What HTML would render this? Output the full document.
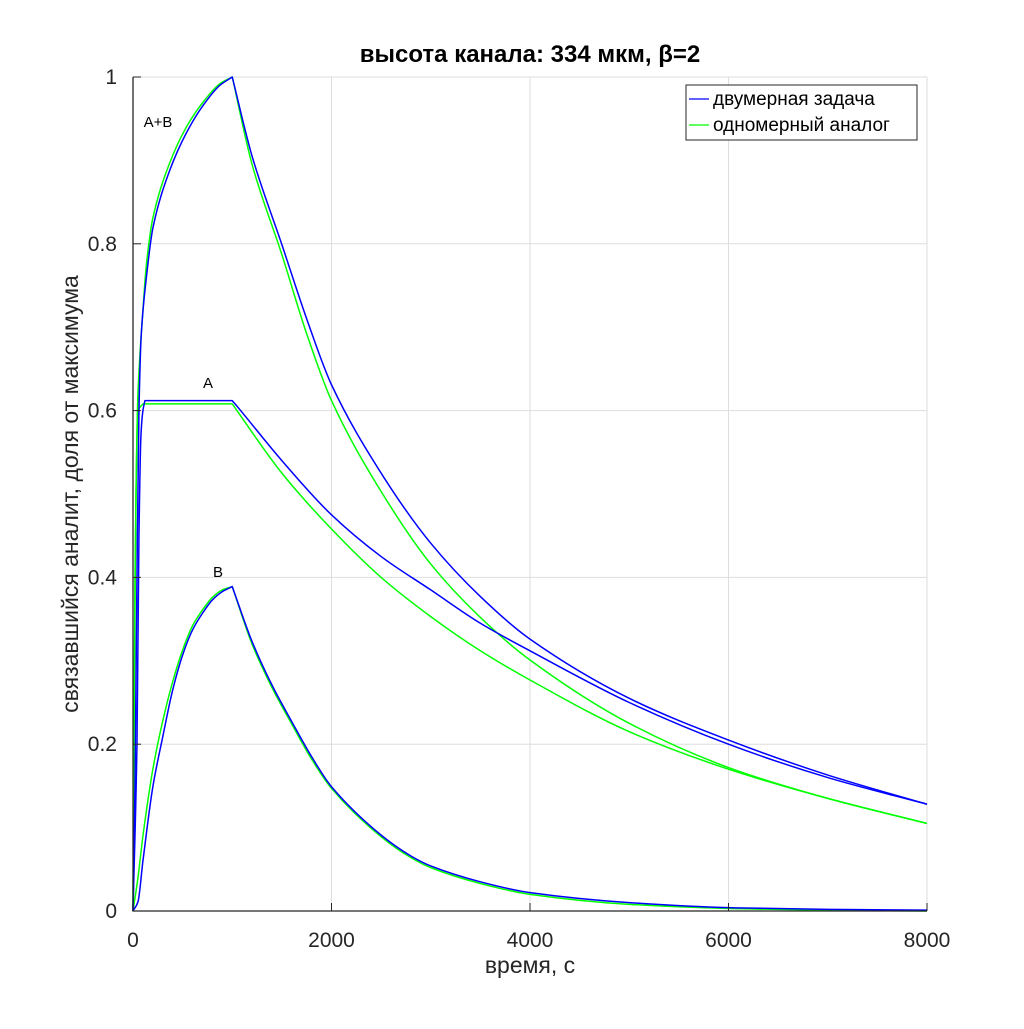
<!DOCTYPE html>
<html><head><meta charset="utf-8"><style>
body{margin:0;background:#fff;font-family:"Liberation Sans",sans-serif}
svg text{font-family:"Liberation Sans",sans-serif}
</style></head><body>
<svg id="chart" width="1024" height="1024" viewBox="0 0 1024 1024" xmlns="http://www.w3.org/2000/svg">
<rect width="1024" height="1024" fill="#fff"/>
<g id="grid"></g>
<g id="series"></g>
<g id="axes"></g>
<text x="530" y="62" text-anchor="middle" font-size="24" font-weight="bold" fill="#000">высота канала: 334 мкм, β=2</text>
<text x="530" y="973" text-anchor="middle" font-size="23" fill="#262626">время, с</text>
<text transform="translate(78,494) rotate(-90)" text-anchor="middle" font-size="23" fill="#262626">связавшийся аналит, доля от максимума</text>
<text x="158" y="127" text-anchor="middle" font-size="15" fill="#000">A+B</text>
<text x="208" y="388" text-anchor="middle" font-size="15" fill="#000">A</text>
<text x="218" y="577" text-anchor="middle" font-size="15" fill="#000">B</text>
<g>
<rect x="686" y="85" width="231" height="55" fill="#fff" stroke="#262626" stroke-width="1"/>
<line x1="689" y1="99" x2="709" y2="99" stroke="#0000ff" stroke-width="1.2"/>
<text x="713" y="105" font-size="19" fill="#000">двумерная задача</text>
<line x1="689" y1="125" x2="709" y2="125" stroke="#00ff00" stroke-width="1.2"/>
<text x="713" y="131" font-size="19" fill="#000">одномерный аналог</text>
</g>
</svg>
<script>
const xTicks=[0,2000,4000,6000,8000];
const yTicks=[0,0.2,0.4,0.6,0.8,1];
const yTickLabels=["0","0.2","0.4","0.6","0.8","1"];
const tABblue=[0,20,40,60,84,135,202,370,538,707,875,1000,1200,1500,1750,2000,2500,3000,3500,4000,5000,6000,7000,8000];
const vABblue=[0,0.15,0.4,0.6,0.693,0.76,0.82,0.888,0.933,0.966,0.99,1,0.905,0.799,0.71,0.631,0.525,0.441,0.377,0.326,0.255,0.205,0.163,0.128];
const tABgreen=[0,15,30,50,100,135,202,370,538,707,875,1000,1200,1500,1750,2000,2500,3000,3500,4000,5000,6000,7000,8000];
const vABgreen=[0,0.3,0.5,0.62,0.72,0.775,0.832,0.897,0.94,0.97,0.992,1,0.895,0.787,0.692,0.612,0.503,0.416,0.352,0.301,0.225,0.172,0.135,0.105];
const tAblue=[0,40,60,80,100,120,1000,1050,1500,2000,2500,3000,3500,4000,5000,6000,7000,8000];
const vAblue=[0,0.2,0.45,0.57,0.6,0.612,0.612,0.605,0.54,0.475,0.425,0.385,0.345,0.312,0.25,0.2,0.16,0.128];
const tAgreen=[0,20,50,100,1000,1500,2000,2500,3000,3500,4000,5000,6000,7000,8000];
const vAgreen=[0,0.4,0.6,0.608,0.608,0.525,0.458,0.4,0.353,0.312,0.277,0.215,0.17,0.135,0.105];
const tBblue=[0,50,100,200,300,400,500,600,700,800,900,1000,1200,1400,1600,1800,2000,2500,2800,3000,3500,4000,5000,6000,7000,8000];
const vBblue=[0,0.011,0.06,0.149,0.209,0.265,0.307,0.337,0.357,0.373,0.383,0.389,0.323,0.271,0.227,0.185,0.149,0.091,0.066,0.054,0.035,0.022,0.01,0.004,0.002,0.001];
const tBgreen=[0,50,100,200,300,400,500,600,700,800,900,1000,1200,1400,1600,1800,2000,2500,2800,3000,3500,4000,5000,6000,7000,8000];
const vBgreen=[0,0.04,0.09,0.17,0.228,0.275,0.313,0.342,0.361,0.376,0.385,0.389,0.32,0.268,0.224,0.182,0.147,0.089,0.064,0.052,0.033,0.02,0.008,0.003,0.001,0];

const X0=133,X1=927,Y0=911,Y1=77;
const xs=t=>X0+(t/8000)*(X1-X0);
const ys=v=>Y0-v*(Y0-Y1);
const NS="http://www.w3.org/2000/svg";
const grid=document.getElementById('grid'),axes=document.getElementById('axes'),series=document.getElementById('series');
function mk(tag,attrs,parent){const e=document.createElementNS(NS,tag);for(const k in attrs)e.setAttribute(k,attrs[k]);parent.appendChild(e);return e;}
xTicks.forEach((t,i)=>{
  if(t>0){const g=mk('line',{x1:xs(t),x2:xs(t),y1:Y1,y2:Y0,stroke:'#dedede','stroke-width':1},grid);
  
  }
  const tk=mk('line',{x1:xs(t),x2:xs(t),y1:Y0,y2:Y0-8,stroke:'#262626','stroke-width':1},axes);
  
  
  const lb=mk('text',{x:xs(t),y:Y0+36,'text-anchor':'middle','font-size':21,fill:'#262626'},axes);
  lb.textContent=String(t);
  
  
});
yTicks.forEach((v,i)=>{
  if(v>0){const g=mk('line',{x1:X0,x2:X1,y1:ys(v),y2:ys(v),stroke:'#dedede','stroke-width':1},grid);
  
  }
  const tk=mk('line',{x1:X0,x2:X0+8,y1:ys(v),y2:ys(v),stroke:'#262626','stroke-width':1},axes);
  
  
  const lb=mk('text',{x:X0-16,y:ys(v)+7,'text-anchor':'end','font-size':21,fill:'#262626'},axes);
  lb.textContent=yTickLabels[i];
  
  
});
const ax=mk('path',{d:`M${X0},${Y1}V${Y0}H${X1}`,fill:'none',stroke:'#262626','stroke-width':1.3},axes);


// monotone cubic within segments; break (sharp corner) wherever slope changes sign or becomes flat
function segPath(px,py,first){
  const n=px.length;
  let s=first?`M${px[0].toFixed(2)},${py[0].toFixed(2)}`:'';
  if(n<3){for(let i=1;i<n;i++)s+=`L${px[i].toFixed(2)},${py[i].toFixed(2)}`;return s;}
  const d=[],m=new Array(n);
  for(let i=0;i<n-1;i++)d.push((py[i+1]-py[i])/(px[i+1]-px[i]));
  m[0]=d[0];m[n-1]=d[n-2];
  for(let i=1;i<n-1;i++){m[i]=(d[i-1]*d[i]<=0)?0:2/(1/d[i-1]+1/d[i]);}
  for(let i=0;i<n-1;i++){const h=px[i+1]-px[i];
    s+=`C${(px[i]+h/3).toFixed(2)},${(py[i]+m[i]*h/3).toFixed(2)} ${(px[i+1]-h/3).toFixed(2)},${(py[i+1]-m[i+1]*h/3).toFixed(2)} ${px[i+1].toFixed(2)},${py[i+1].toFixed(2)}`;}
  return s;
}
function pathFor(px,py){
  const n=px.length;let s='',start=0;
  const sg=i=>Math.sign(py[i+1]-py[i]);
  for(let i=1;i<n-1;i++){
    if(sg(i-1)!==sg(i)){s+=segPath(px.slice(start,i+1),py.slice(start,i+1),start===0);start=i;}
  }
  s+=segPath(px.slice(start),py.slice(start),start===0);
  return s;
}
function line(ts,vs,color,name){
  const p=mk('path',{d:pathFor(ts.map(xs),vs.map(ys)),fill:'none',stroke:color,'stroke-width':1.5,'stroke-linejoin':'round'},series);
  
  
}
line(tABgreen,vABgreen,'#00ff00','line-a-plus-b-1d');
line(tAgreen,vAgreen,'#00ff00','line-a-1d');
line(tBgreen,vBgreen,'#00ff00','line-b-1d');
line(tABblue,vABblue,'#0000ff','line-a-plus-b-2d');
line(tAblue,vAblue,'#0000ff','line-a-2d');
line(tBblue,vBblue,'#0000ff','line-b-2d');
</script>
</body></html>
